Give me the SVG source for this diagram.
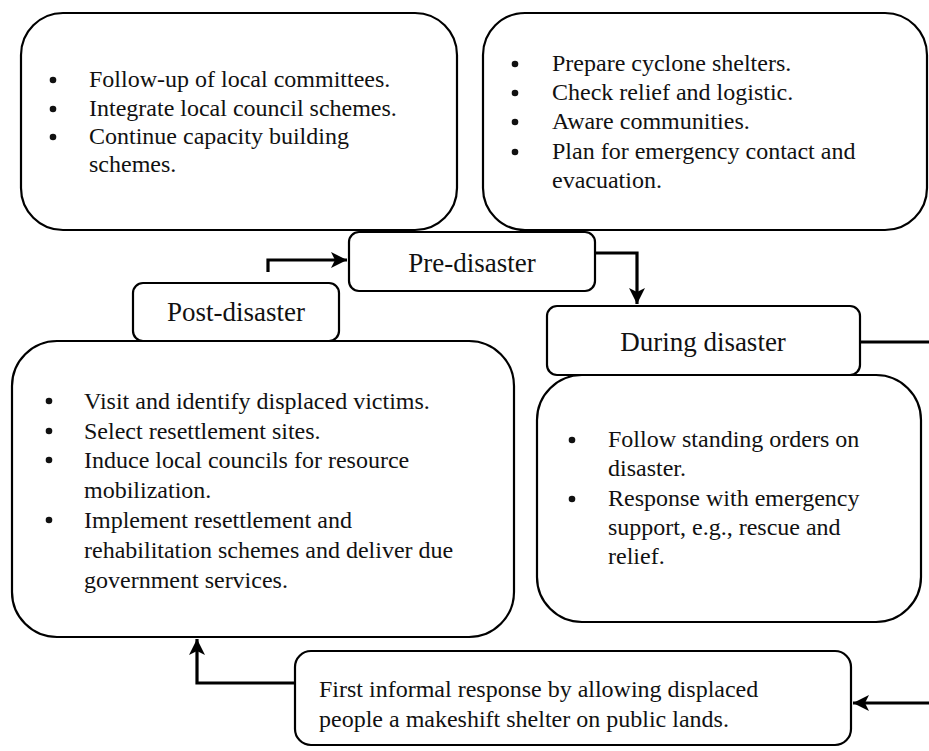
<svg xmlns="http://www.w3.org/2000/svg" width="929" height="751" viewBox="0 0 929 751">
<style>
.box{fill:#fff;stroke:#000;stroke-width:2.2}
.t{font-family:"Liberation Serif","Times New Roman",serif;font-size:24px;fill:#111}
.h{font-family:"Liberation Serif","Times New Roman",serif;font-size:27px;fill:#111;text-anchor:middle}
.c{fill:none;stroke:#000;stroke-width:3.2}
.b{fill:#111}
</style>
<defs>
<marker id="arr" markerUnits="userSpaceOnUse" markerWidth="18" markerHeight="16" refX="16" refY="8" orient="auto">
<path d="M0,0 L16,8 L0,16 L4,8 z" fill="#000"/>
</marker>
</defs>
<rect width="929" height="751" fill="#fff"/>

<g id="post-content">
<rect class="box" x="12" y="341" width="502" height="296" rx="45"/>
<circle class="b" cx="49" cy="401" r="3.3"/><text class="t" x="84" y="409">Visit and identify displaced victims.</text>
<circle class="b" cx="49" cy="431" r="3.3"/><text class="t" x="84" y="439">Select resettlement sites.</text>
<circle class="b" cx="49" cy="460" r="3.3"/><text class="t" x="84" y="468">Induce local councils for resource</text>
<text class="t" x="84" y="498">mobilization.</text>
<circle class="b" cx="49" cy="520" r="3.3"/><text class="t" x="84" y="528">Implement resettlement and</text>
<text class="t" x="84" y="558">rehabilitation schemes and deliver due</text>
<text class="t" x="84" y="588">government services.</text>
</g>

<g id="post-disaster">
<rect class="box" x="133" y="283" width="206" height="58" rx="10"/>
<text class="h" x="236" y="321">Post-disaster</text>
</g>

<g id="post-tasks">
<rect class="box" x="21" y="13" width="436" height="217" rx="42"/>
<circle class="b" cx="53" cy="80" r="3.3"/><text class="t" x="89" y="87">Follow-up of local committees.</text>
<circle class="b" cx="53" cy="109" r="3.3"/><text class="t" x="89" y="116">Integrate local council schemes.</text>
<circle class="b" cx="53" cy="137" r="3.3"/><text class="t" x="89" y="144">Continue capacity building</text>
<text class="t" x="89" y="172">schemes.</text>
</g>

<g id="pre-tasks">
<rect class="box" x="483" y="13" width="444" height="217" rx="42"/>
<circle class="b" cx="515" cy="64" r="3.3"/><text class="t" x="552" y="71">Prepare cyclone shelters.</text>
<circle class="b" cx="515" cy="93" r="3.3"/><text class="t" x="552" y="100">Check relief and logistic.</text>
<circle class="b" cx="515" cy="122" r="3.3"/><text class="t" x="552" y="129">Aware communities.</text>
<circle class="b" cx="515" cy="152" r="3.3"/><text class="t" x="552" y="159">Plan for emergency contact and</text>
<text class="t" x="552" y="188">evacuation.</text>
</g>

<g id="pre-disaster">
<rect class="box" x="349" y="232" width="246" height="59" rx="10"/>
<text class="h" x="472" y="272">Pre-disaster</text>
</g>

<g id="during-content">
<rect class="box" x="537" y="375" width="384" height="247" rx="45"/>
<circle class="b" cx="572" cy="440" r="3.3"/><text class="t" x="608" y="447">Follow standing orders on</text>
<text class="t" x="608" y="476">disaster.</text>
<circle class="b" cx="572" cy="499" r="3.3"/><text class="t" x="608" y="506">Response with emergency</text>
<text class="t" x="608" y="535">support, e.g., rescue and</text>
<text class="t" x="608" y="564">relief.</text>
</g>

<g id="during-disaster">
<rect class="box" x="547" y="306" width="313" height="69" rx="10"/>
<text class="h" x="703" y="351">During disaster</text>
</g>

<g id="informal-response">
<rect class="box" x="295" y="651" width="556" height="94" rx="16"/>
<text class="t" x="319" y="697">First informal response by allowing displaced</text>
<text class="t" x="319" y="727">people a makeshift shelter on public lands.</text>
</g>

<g id="connectors">
<path class="c" d="M268,272 V260 H347" marker-end="url(#arr)"/>
<path class="c" d="M595,253 H637 V304" marker-end="url(#arr)"/>
<path class="c" d="M860,342 H929"/>
<path class="c" d="M929,703 H853" marker-end="url(#arr)"/>
<path class="c" d="M295,683 H197 V639" marker-end="url(#arr)"/>
</g>
</svg>
